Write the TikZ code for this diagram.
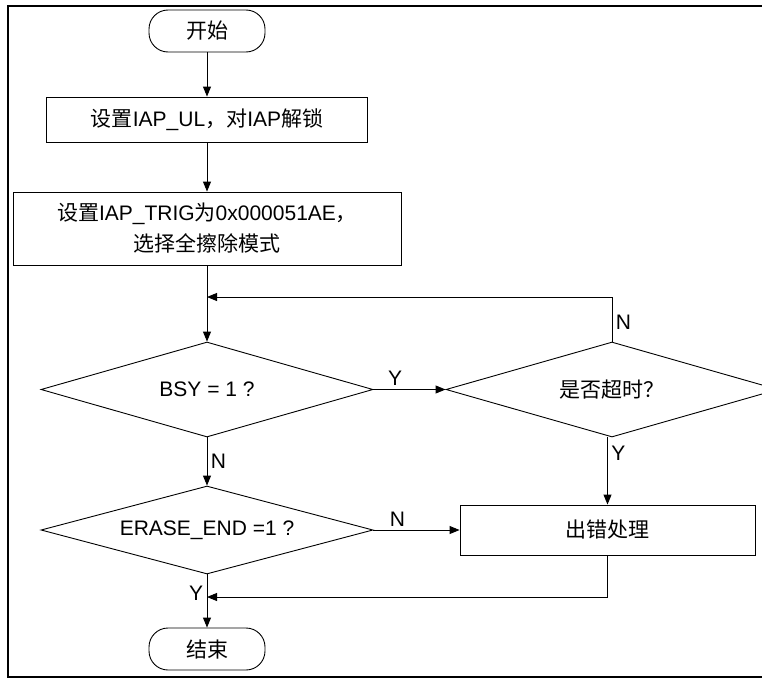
\documentclass[tikz,border=0pt]{standalone}
\usepackage{fontspec}
\setmainfont{Liberation Sans}
\newfontfamily\cjk{Noto Sans CJK SC}
\usetikzlibrary{shapes.geometric,arrows.meta}

\begin{document}
\begin{tikzpicture}[x=1pt,y=-1pt,
    font=\fontsize{21}{31}\selectfont,
    line/.style={draw,line width=0.9pt},
    arr/.style={line,-{Triangle[length=10pt,width=8pt]}},
    box/.style={rectangle,line,inner sep=0pt},
    term/.style={rectangle,rounded corners=19pt,line,inner sep=0pt,minimum width=116pt,minimum height=42pt},
    cond/.style={diamond,line,aspect=3.5,inner sep=0pt,minimum width=332pt}]
    \clip (0,0) rectangle (762,680);
    % Frame
    \draw[line width=2pt] (8,6) rectangle (900,677);

    % Left column
    \node[term] (start) at (207,31) {\cjk 开始};
    \node[box,minimum width=321pt,minimum height=45pt] (set) at (207,119.5) {{\cjk 设置}IAP\_UL{\cjk ，对}IAP{\cjk 解锁}};
    \node[box,align=center,minimum width=388pt,minimum height=73pt] (trig) at (207,228.5)
        {{\cjk 设置}IAP\_TRIG{\cjk 为}0x000051AE{\cjk ，}\\{\cjk 选择全擦除模式}};
    \node[cond,minimum height=95pt] (busy) at (207,389.5) {BSY = 1 ?};
    \node[cond,minimum height=88pt] (erase) at (207,530) {ERASE\_END =1 ?};
    \node[term] (stop) at (207,649) {\cjk 结束};

    % Right column
    \node[cond,minimum height=95pt] (tout) at (612,389.5) {\cjk 是否超时？};
    \node[box,minimum width=295pt,minimum height=50pt] (fail) at (607.5,530) {\cjk 出错处理};

    \coordinate (loop) at (207,297);
    \coordinate (join) at (207,597);

    % Connectors
    \draw[arr] (start) -- (set);
    \draw[arr] (set) -- (trig);
    \draw[arr] (trig) -- (busy);
    \draw[arr] (busy) -- node[above,pos=.3] {Y} (tout);
    \draw[arr] (tout.north) |- node[right,pos=.22] {N} (loop);
    \draw[arr] (busy) -- node[right,pos=.5] {N} (erase);
    \draw[arr] (tout.south -| fail.north) -- node[right,pos=.24] {Y} (fail);
    \draw[arr] (erase) -- node[above,pos=.28] {N} (fail);
    \draw[arr] (erase) -- node[left,pos=.36] {Y} (stop);
    \draw[arr] (fail.south) |- (join);
\end{tikzpicture}
\end{document}
